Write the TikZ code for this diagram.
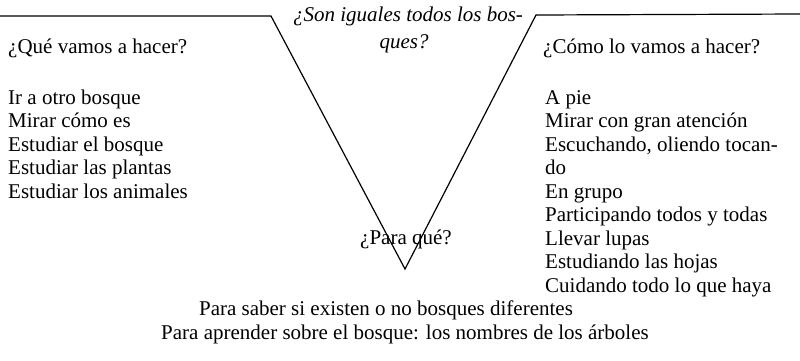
\documentclass[tikz,border=0pt]{standalone}
\usepackage{fontspec}
\setmainfont{Liberation Serif}
\begin{document}
\begin{tikzpicture}[x=1pt,y=-1pt,
  txt/.style={font=\fontsize{21}{23.5}\selectfont, inner sep=0pt},
  ttl/.style={font=\fontsize{21}{23.5}\selectfont\itshape, inner sep=0pt},
  vline/.style={line width=1.2pt, black, line join=miter}]
\useasboundingbox (0,0) rectangle (800,360);
\coordinate (L0) at (0,16);
\coordinate (L1) at (271,16);
\coordinate (V) at (405,269);
\coordinate (R1) at (536,15);
\coordinate (R0) at (800,14);
\draw[vline] (L0) -- (L1) -- (V) -- (R1) -- (R0);
\node[ttl, anchor=base] (t1) at (408,21) {¿Son iguales todos los bos-};
\node[ttl, anchor=base] (t2) at (404,48) {ques?};
\node[txt, anchor=base west] (hq) at (8,53) {¿Qué vamos a hacer?};
\node[txt, anchor=base west] (hc) at (543,53) {¿Cómo lo vamos a hacer?};
\foreach \t [count=\i from 0] in {Ir a otro bosque, Mirar cómo es, Estudiar el bosque, Estudiar las plantas, Estudiar los animales}
  \node[txt, anchor=base west] (l\i) at (8,{104+23.5*\i}) {\t};
\foreach \t [count=\i from 0] in {A pie, Mirar con gran atención, {Escuchando, oliendo tocan-}, do, En grupo, Participando todos y todas, Llevar lupas, Estudiando las hojas, Cuidando todo lo que haya}
  \node[txt, anchor=base west] (r\i) at (545,{104+23.5*\i}) {\t};
\node[txt, anchor=base] (pq) at (406,244) {¿Para qué?};
\node[txt, anchor=base] (b1) at (386,315.5) {Para saber si existen o no bosques diferentes};
\node[txt, anchor=base] (b2) at (405,339) {Para aprender sobre el bosque: los nombres de los árboles};
\end{tikzpicture}
\end{document}
